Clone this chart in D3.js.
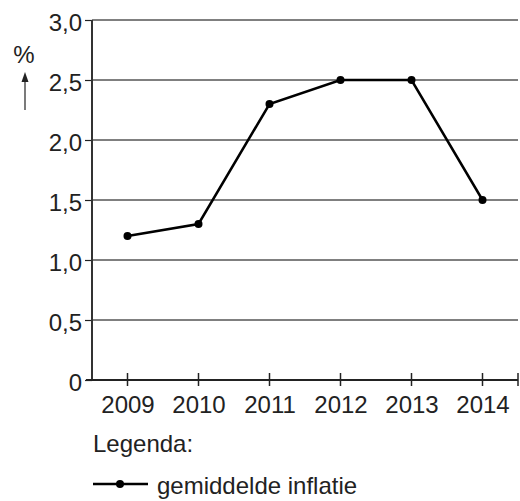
<!DOCTYPE html>
<meta charset="utf-8">
<style>
  body { margin: 0; background: #fff; }
  text { font-family: "Liberation Sans", Arial, sans-serif; fill: #222; }
</style>
<svg width="520" height="501"></svg>
<script src="https://d3js.org/d3.v7.min.js"></script>
<script>
var years = ["2009", "2010", "2011", "2012", "2013", "2014"];
var inflatie = [1.2, 1.3, 2.3, 2.5, 2.5, 1.5];
var yTicks = [0, 0.5, 1, 1.5, 2, 2.5, 3];

var m = {left: 92, right: 518, top: 20, bottom: 380};
var fs = 24;

var svg = d3.select("svg");

var x = d3.scalePoint().domain(years).range([m.left, m.right]).padding(0.5);
var y = d3.scaleLinear().domain([0, 3]).range([m.bottom, m.top]);

var fmt = function(d) { return d === 0 ? "0" : d3.format(".1f")(d).replace(".", ","); };

// gridlines
svg.append("g")
  .selectAll("line")
  .data(yTicks.slice(1))
  .enter().append("line")
    .attr("x1", m.left).attr("x2", m.right)
    .attr("y1", y).attr("y2", y)
    .attr("stroke", "#000").attr("stroke-width", 1);

// y axis
var yAxis = svg.append("g").attr("transform", "translate(" + m.left + ",0)")
  .call(d3.axisLeft(y).tickValues(yTicks).tickFormat(fmt).tickSize(7).tickPadding(3));
yAxis.select(".domain").remove();
yAxis.attr("font-size", fs).attr("font-family", null);
yAxis.selectAll(".tick line").attr("stroke", "#222").attr("stroke-width", 1.2);
yAxis.selectAll("text").attr("fill", "#222").attr("dy", "0.42em");
svg.append("line").attr("x1", m.left).attr("x2", m.left).attr("y1", m.top).attr("y2", m.bottom)
  .attr("stroke", "#333").attr("stroke-width", 2);

// x axis
var xAxis = svg.append("g").attr("transform", "translate(0," + m.bottom + ")")
  .call(d3.axisBottom(x).tickSize(0).tickPadding(16));
xAxis.select(".domain").remove();
xAxis.attr("font-size", fs).attr("font-family", null);
xAxis.selectAll("text").attr("fill", "#222");
svg.append("line").attr("x1", m.left - 6).attr("x2", m.right).attr("y1", m.bottom).attr("y2", m.bottom)
  .attr("stroke", "#222").attr("stroke-width", 2);
svg.append("g")
  .selectAll("line")
  .data(years.map(function(d) { return x(d); }).concat([m.right]))
  .enter().append("line")
    .attr("x1", function(d) { return d; }).attr("x2", function(d) { return d; })
    .attr("y1", m.bottom - 7).attr("y2", m.bottom + 6)
    .attr("stroke", "#222").attr("stroke-width", 1.5);

// unit label
svg.append("text").attr("x", 24).attr("y", 63).attr("text-anchor", "middle")
  .attr("font-size", fs).text("%");
svg.append("line").attr("x1", 25).attr("x2", 25).attr("y1", 110).attr("y2", 78)
  .attr("stroke", "#222").attr("stroke-width", 1.2);
svg.append("path").attr("d", "M21.5,82 L25,72 L28.5,82 Z").attr("fill", "#222");

// data line
var line = d3.line().x(function(d, i) { return x(years[i]); }).y(function(d) { return y(d); });
svg.append("path").datum(inflatie)
  .attr("d", line).attr("fill", "none").attr("stroke", "#000").attr("stroke-width", 2.5);
svg.append("g")
  .selectAll("circle")
  .data(inflatie)
  .enter().append("circle")
    .attr("cx", function(d, i) { return x(years[i]); })
    .attr("cy", y)
    .attr("r", 4)
    .attr("fill", "#000");

// legend
svg.append("text").attr("x", 93).attr("y", 452).attr("font-size", fs).text("Legenda:");
svg.append("line").attr("x1", 93).attr("x2", 148).attr("y1", 484).attr("y2", 484)
  .attr("stroke", "#000").attr("stroke-width", 2.5);
svg.append("circle").attr("cx", 120).attr("cy", 484).attr("r", 4).attr("fill", "#000");
svg.append("text").attr("x", 157).attr("y", 494).attr("font-size", fs).text("gemiddelde inflatie");
</script>
